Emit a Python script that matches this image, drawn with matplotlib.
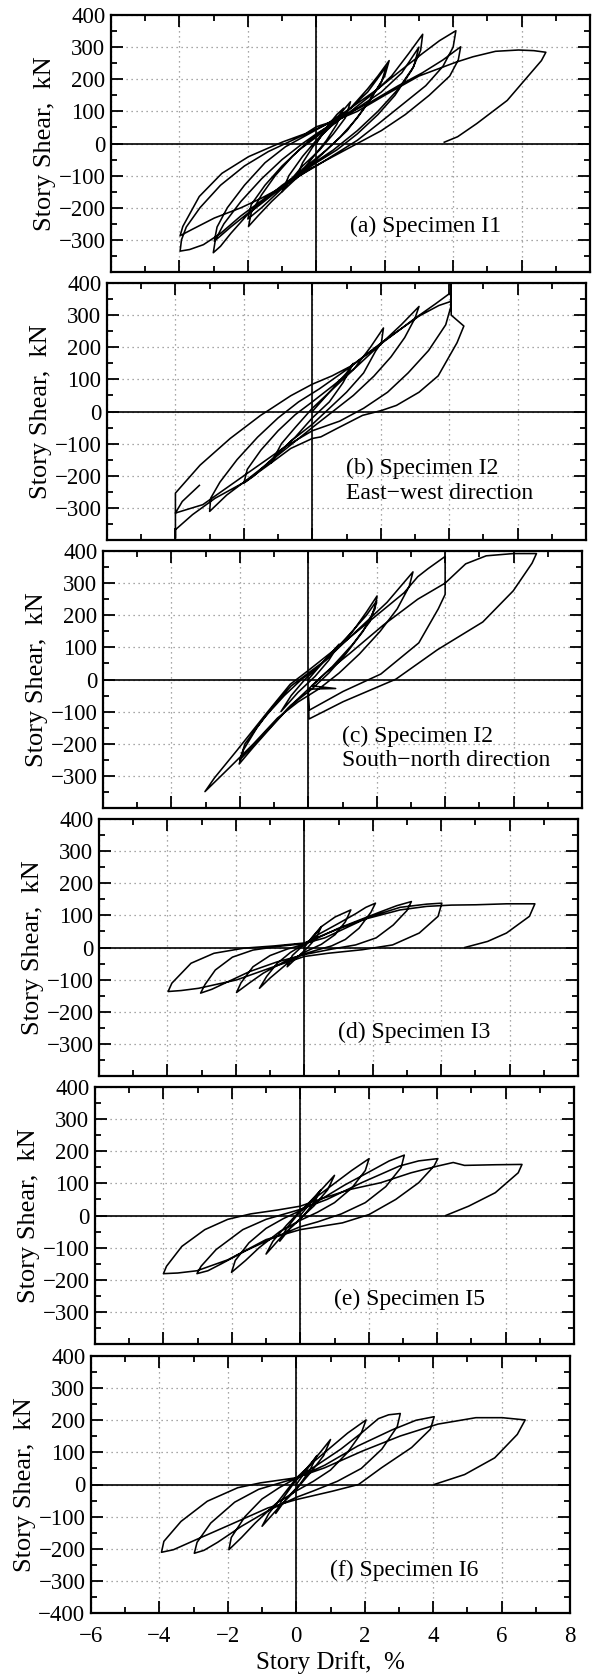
import numpy as np
import matplotlib.pyplot as plt
from matplotlib.ticker import MultipleLocator

plt.rcParams['font.family'] = ['Liberation Serif', 'DejaVu Serif']

# story drift (%) , story shear (kN)
loop_a = [(0, 0), (0.3, 50), (0.6, 90), (0.8, 110), (0.6, 60), (0.3, 10), (0, -30), (-0.3, -70), (-0.6, -110),
          (-0.4, -60), (-0.1, -10), (0.2, 30),
          (0.6, 80), (1.0, 130), (0.85, 80), (0.5, 30), (0.1, -20), (-0.4, -70), (-0.8, -120), (-1.0, -150),
          (-0.8, -100), (-0.4, -40), (0, 10),
          (0.5, 60), (1.0, 110), (1.5, 170), (1.8, 210), (2.13, 258), (2.0, 210), (1.6, 140), (1.2, 80), (0.7, 20),
          (0.2, -30), (-0.3, -80), (-0.8, -130), (-1.3, -180), (-1.7, -225), (-1.98, -258), (-1.9, -215),
          (-1.6, -160), (-1.2, -100), (-0.7, -40), (-0.2, 10), (0.3, 50),
          (0.9, 100), (1.5, 160), (2.05, 240), (1.9, 190), (1.4, 110), (0.9, 40), (0.3, -20), (-0.4, -80),
          (-1.1, -150), (-1.6, -200), (-2.0, -235), (-1.9, -190), (-1.5, -130), (-1.0, -70), (-0.5, -20), (0, 20),
          (0.5, 60),
          (1.0, 100), (1.6, 150), (2.2, 210), (2.7, 280), (3.11, 340), (3.05, 290), (2.8, 230), (2.3, 150),
          (1.8, 90), (1.2, 30), (0.6, -20), (0, -60), (-0.7, -110), (-1.4, -170), (-2.0, -220), (-2.5, -280),
          (-2.8, -320), (-3.01, -340), (-2.95, -300), (-2.7, -250), (-2.2, -180), (-1.6, -110), (-1.0, -50),
          (-0.4, 0), (0, 30), (0.6, 70),
          (1.2, 110), (1.9, 160), (2.5, 220), (3.0, 300), (2.85, 240), (2.4, 170), (1.8, 100), (1.2, 40), (0.5, -20),
          (-0.2, -70), (-1.0, -130), (-1.8, -200), (-2.5, -260), (-2.98, -304), (-2.9, -260), (-2.6, -200),
          (-2.1, -130), (-1.5, -60), (-0.9, -10), (-0.3, 25), (0.3, 60),
          (1.0, 110), (1.8, 170), (2.5, 230), (3.1, 280), (3.6, 320), (4.08, 351), (4.0, 300), (3.7, 240),
          (3.2, 180), (2.5, 120), (1.8, 60), (1.2, 10), (0.6, -30), (0, -70), (-0.8, -120), (-1.5, -170),
          (-2.2, -225), (-2.8, -280), (-3.3, -315), (-3.7, -330), (-3.98, -335), (-3.94, -300), (-3.8, -260),
          (-3.4, -200), (-2.8, -130), (-2.1, -70), (-1.4, -25), (-0.7, 10), (0, 45), (0.8, 85),
          (1.6, 130), (2.4, 180), (3.1, 220), (3.7, 260), (4.22, 301), (4.15, 260), (3.9, 210), (3.3, 150),
          (2.6, 90), (1.9, 40), (1.2, 0), (0.5, -40), (-0.2, -80), (-0.9, -130), (-1.6, -170), (-2.2, -200),
          (-2.98, -232), (-3.64, -268), (-3.98, -287), (-3.9, -258), (-3.42, -165), (-2.76, -93), (-1.98, -41),
          (-1.42, -15), (-0.98, 5), (-0.31, 31), (0, 52), (0.58, 72),
          (1.2, 100), (2.0, 150), (3.0, 210), (4.08, 253), (4.58, 270), (5.24, 287), (5.91, 291), (6.36, 289),
          (6.71, 284), (6.58, 258), (6.24, 216), (5.58, 134), (4.69, 62), (4.13, 21), (3.74, 4)]

loop_b = [(0, 0), (0.5, 60), (1.0, 120), (1.2, 150), (0.9, 90), (0.5, 30), (0, -20), (-0.5, -80), (-1.0, -130),
          (-1.2, -160), (-0.9, -100), (-0.5, -50), (0, 10),
          (0.6, 70), (1.2, 130), (1.7, 200), (2.08, 260), (2.02, 214), (1.85, 188), (1.5, 120), (1.0, 60), (0.5, 10),
          (0, -40), (-0.6, -90), (-1.2, -150), (-1.7, -200), (-2.0, -223), (-1.9, -180), (-1.5, -120), (-1.0, -60),
          (-0.5, -10), (0, 30), (0.6, 80),
          (1.3, 140), (2.0, 210), (2.6, 270), (3.12, 327), (3.0, 290), (2.7, 230), (2.3, 170), (1.8, 110), (1.2, 50),
          (0.6, 0), (0, -50), (-0.7, -110), (-1.4, -170), (-2.0, -220), (-2.5, -260), (-3.0, -311), (-2.97, -270),
          (-2.7, -220), (-2.2, -150), (-1.6, -80), (-1.0, -20), (-0.4, 30), (0.2, 70),
          (1.0, 130), (2.0, 210), (3.0, 290), (3.6, 335), (4.06, 371), (4.06, 300), (4.43, 266), (4.23, 214),
          (3.68, 111), (3.12, 60), (2.46, 19), (2.02, 3), (1.47, -12), (0.7, -54), (0.25, -79), (0, -84),
          (-0.63, -115), (-1.29, -167), (-1.95, -218), (-2.84, -270), (-3.5, -321), (-3.83, -352), (-4.0, -368),
          (-4.0, -395), (-4.0, -254), (-3.28, -167), (-2.4, -84), (-1.51, -12), (-1.29, 3), (-0.63, 49), (0, 85),
          (0.58, 111), (1.14, 142), (2.02, 214), (3.12, 297), (3.7, 330), (4.06, 343), (4.06, 395), (4.06, 330),
          (3.9, 270), (3.4, 190), (2.8, 120), (2.2, 60), (1.5, 10), (0.8, -30), (0, -60), (-0.8, -110),
          (-1.6, -170), (-2.4, -230), (-3.2, -290), (-4.0, -316), (-3.8, -280), (-3.3, -230)]

loop_c = [(0, 0), (0.4, 50), (0.9, 110), (0.6, 60), (0.2, 10), (-0.3, -40), (-0.8, -100), (-0.5, -50), (-0.1, 0),
          (0.3, 40),
          (0.8, 90), (1.3, 150), (1.7, 210), (2.01, 260), (1.95, 220), (1.6, 150), (1.1, 80), (0.6, 20), (0.1, -30),
          (-0.5, -80), (-1.1, -150), (-1.6, -210), (-2.02, -263), (-1.9, -220), (-1.5, -150), (-1.0, -80),
          (-0.5, -20), (0, 20), (0.5, 60),
          (1.2, 140), (1.7, 200), (2.0, 245), (1.8, 180), (1.3, 110), (0.7, 40), (0.1, -20), (-0.6, -90),
          (-1.3, -170), (-2.0, -250), (-1.85, -200), (-1.3, -120), (-0.7, -50), (-0.2, 0), (0.3, 40),
          (1.0, 110), (1.7, 180), (2.3, 240), (2.7, 290), (3.06, 335), (2.95, 290), (2.6, 220), (2.1, 150),
          (1.5, 80), (0.9, 20), (0.3, -30), (-0.3, -70), (-0.9, -120), (-1.6, -200), (-2.3, -274), (-3.02, -349),
          (-2.74, -306), (-2.08, -220), (-1.19, -101), (-0.53, -15), (0, 28), (1.02, 114),
          (2.0, 200), (2.8, 270), (3.2, 320), (3.5, 345), (4.0, 383), (4.0, 265), (3.8, 220), (3.23, 114),
          (2.12, 17), (1.02, -37), (0.02, -96), (0, -30), (0.8, -28), (0.1, -20), (0.5, 20), (1.2, 80), (2.2, 170),
          (3.2, 250), (4.0, 300), (4.6, 360), (5.2, 385), (5.99, 392), (6.67, 392), (6.54, 362), (5.99, 276),
          (5.1, 179), (3.78, 93), (2.56, 1), (1.02, -69), (0.02, -123), (0, -60)]

loop_d = [(0, 0), (0.25, 35), (0.5, 65), (0.35, 30), (0.1, 0), (-0.2, -30), (-0.5, -60), (-0.35, -25), (-0.1, 0),
          (0.2, 25), (0.5, 65),
          (0.9, 95), (1.36, 117), (1.2, 80), (0.9, 40), (0.5, 10), (0, -15), (-0.5, -50), (-1.0, -95),
          (-1.31, -127), (-1.1, -90), (-0.8, -50), (-0.4, -15), (0, 10), (0.4, 40),
          (1.0, 75), (1.5, 105), (1.8, 125), (2.08, 138), (1.95, 110), (1.6, 60), (1.2, 25), (0.8, 5), (0.3, -10),
          (0, -20), (-0.6, -45), (-1.2, -80), (-1.6, -110), (-1.98, -140), (-1.85, -110), (-1.5, -60),
          (-1.0, -25), (-0.5, -5), (0, 10), (0.5, 35),
          (1.0, 60), (1.6, 85), (2.2, 110), (2.7, 130), (3.13, 143), (3.0, 115), (2.6, 70), (2.1, 30), (1.5, 8),
          (0.8, -5), (0, -22), (-0.8, -45), (-1.6, -75), (-2.3, -110), (-2.7, -130), (-3.03, -142), (-2.9, -115),
          (-2.6, -70), (-2.1, -30), (-1.5, -8), (-0.8, 3), (0, 12), (0.6, 30),
          (1.2, 60), (1.9, 95), (2.8, 125), (3.58, 135), (4.02, 138), (3.91, 97), (3.36, 45), (2.58, 8),
          (1.69, -7), (0.69, -18), (0, -28), (-0.87, -59), (-1.98, -101), (-3.09, -127), (-3.6, -134),
          (-3.98, -137), (-3.87, -111), (-3.31, -49), (-2.64, -18), (-1.76, -2), (-0.87, 5), (0, 14), (0.69, 45),
          (1.69, 86), (2.8, 117), (3.58, 128), (4.3, 132), (5.02, 133), (5.91, 136), (6.74, 136), (6.58, 97),
          (5.91, 45), (5.36, 19), (4.69, 0)]

loop_e = [(0, 0), (0.3, 40), (0.6, 80), (0.4, 40), (0.1, 0), (-0.3, -40), (-0.6, -80), (-0.4, -40), (-0.1, 0),
          (0.3, 45),
          (0.7, 90), (1.0, 125), (0.8, 80), (0.4, 30), (0, -10), (-0.5, -60), (-1.0, -120), (-0.8, -80),
          (-0.4, -30), (0, 15), (0.5, 60),
          (1.0, 100), (1.5, 140), (2.01, 177), (1.9, 140), (1.5, 85), (1.0, 40), (0.5, 10), (0, -15), (-0.6, -50),
          (-1.2, -100), (-1.6, -140), (-2.01, -177), (-1.9, -140), (-1.5, -85), (-1.0, -40), (-0.5, -10), (0, 15),
          (0.6, 50),
          (1.3, 95), (2.0, 135), (2.6, 170), (3.04, 188), (2.95, 150), (2.5, 90), (1.9, 40), (1.2, 5), (0.5, -20),
          (0, -35), (-0.8, -70), (-1.6, -110), (-2.3, -150), (-2.7, -172), (-3.02, -181), (-2.9, -158),
          (-2.46, -106), (-1.68, -44), (-1.0, -12), (0, 19), (0.78, 50), (1.79, 102), (2.9, 154), (3.46, 170),
          (4.02, 177),
          (3.91, 154), (3.46, 102), (2.79, 50), (2.01, 3), (1.23, -23), (0, -44), (-1.0, -75), (-2.12, -138),
          (-3.02, -172), (-3.58, -179), (-4.0, -181), (-3.91, -158), (-3.46, -96), (-2.79, -44), (-2.12, -12),
          (-1.45, 5), (-0.67, 17), (0, 29), (0.56, 50), (1.45, 81), (2.35, 102), (3.24, 133), (4.02, 154),
          (4.47, 165), (4.8, 156), (5.7, 158), (6.48, 159), (6.37, 133), (5.7, 71), (4.92, 29), (4.25, 0)]

loop_f = [(0, 0), (0.3, 45), (0.6, 90), (0.4, 45), (0.1, 0), (-0.3, -45), (-0.6, -90), (-0.4, -45), (-0.1, 0),
          (0.3, 50),
          (0.7, 100), (1.0, 140), (0.8, 90), (0.4, 35), (0, -15), (-0.5, -70), (-1.0, -130), (-0.8, -90),
          (-0.4, -35), (0, 20), (0.5, 70),
          (1.0, 115), (1.5, 160), (2.04, 201), (1.9, 160), (1.5, 100), (1.0, 45), (0.5, 10), (0, -20), (-0.6, -60),
          (-1.2, -120), (-1.6, -165), (-1.97, -203), (-1.9, -165), (-1.5, -100), (-1.0, -45), (-0.5, -10), (0, 20),
          (0.6, 60),
          (1.3, 110), (1.9, 160), (2.4, 205), (2.7, 217), (3.04, 221), (2.95, 180), (2.5, 110), (1.9, 50),
          (1.2, 10), (0.5, -20), (0, -40), (-0.8, -80), (-1.6, -130), (-2.3, -180), (-2.7, -205), (-2.98, -214),
          (-2.9, -180), (-2.5, -120), (-1.8, -55), (-1.1, -15), (0, 20), (0.83, 60), (1.8, 120), (2.8, 170),
          (3.5, 200), (4.03, 211),
          (3.92, 172), (3.37, 115), (2.49, 52), (1.82, 0), (1.05, -21), (0, -47), (-0.83, -73), (-1.93, -125),
          (-3.04, -177), (-3.59, -203), (-3.94, -211), (-3.87, -177), (-3.37, -115), (-2.6, -52), (-1.71, -10),
          (-1.05, 5), (0, 21), (0.83, 52), (1.93, 104), (3.04, 151), (4.14, 188), (5.25, 208), (6.02, 208),
          (6.69, 201), (6.46, 156), (5.8, 83), (4.92, 31), (4.03, 0)]

loops = [loop_a, loop_b, loop_c, loop_d, loop_e, loop_f]
captions = ['(a) Specimen I1', '(b) Specimen I2\nEast\u2212west direction',
            '(c) Specimen I2\nSouth\u2212north direction', '(d) Specimen I3',
            '(e) Specimen I5', '(f) Specimen I6']
caption_y = [-258, -216, -214, -265, -262, -266]

# panel placement in pixels (the scanned page drifts to the left going down)
W, H = 597, 1679
panel_top = [15, 283, 551, 819, 1087, 1356]
panel_left = [111, 107, 103, 99, 95, 91]
panel_w, panel_h = 479, 257

fig = plt.figure(figsize=(W / 100, H / 100), dpi=100)

for i in range(6):
    ax = fig.add_axes([panel_left[i] / W, 1 - (panel_top[i] + panel_h) / H, panel_w / W, panel_h / H])
    pts = np.array(loops[i])
    ax.plot(pts[:, 0], pts[:, 1], color='black', lw=1.15)
    ax.axhline(0, color='black', lw=1.2)
    ax.axvline(0, color='black', lw=1.2)
    ax.set_xlim(-6, 8)
    ax.set_ylim(-400, 400)
    ax.xaxis.set_major_locator(MultipleLocator(2))
    ax.xaxis.set_minor_locator(MultipleLocator(1))
    if i == 5:
        ax.set_yticks(range(-400, 401, 100))
        ax.set_xlabel('Story Drift,  %', fontsize=18, labelpad=3)
    else:
        ax.set_yticks(range(-300, 401, 100))
        ax.tick_params(axis='x', labelbottom=False)
    ax.yaxis.set_minor_locator(MultipleLocator(50))
    ax.tick_params(which='both', direction='in', top=True, right=True, labelsize=16.5)
    ax.tick_params(axis='y', pad=4)
    ax.tick_params(axis='x', pad=9)
    ax.tick_params(which='major', length=8.5, width=1.3)
    ax.tick_params(which='minor', length=4.3, width=1.3)
    ax.grid(True, which='major', ls=(0, (1, 3)), color='#8a8a8a', lw=0.9)
    for s in ax.spines.values():
        s.set_linewidth(1.6)
    ax.set_ylabel('Story Shear,  kN', fontsize=19, labelpad=2)
    ax.text(1.0, caption_y[i], captions[i], fontsize=17, ha='left', va='center', linespacing=1.2)

fig.savefig('out.png', dpi=100)
